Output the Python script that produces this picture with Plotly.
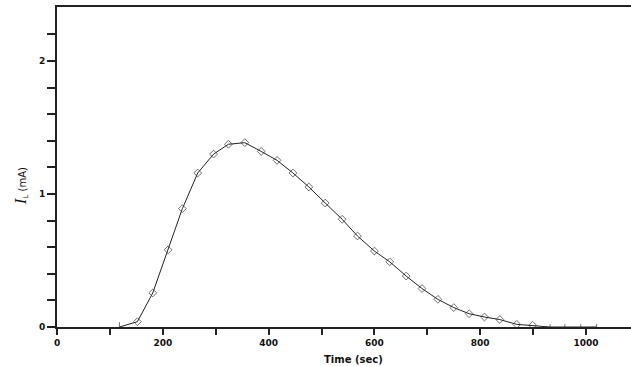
import plotly.graph_objects as go

# Data
time_sec = [118, 152, 181, 210, 237, 266, 296, 324, 355, 386, 416, 446, 476, 507,
            539, 568, 600, 629, 660, 690, 720, 750, 779, 808, 837, 869, 899, 932,
            960, 990, 1020]
current_mA = [0.0, 0.04, 0.256, 0.58, 0.89, 1.158, 1.30, 1.374, 1.386, 1.32, 1.253,
              1.158, 1.053, 0.932, 0.81, 0.684, 0.571, 0.49, 0.383, 0.289, 0.208,
              0.146, 0.10, 0.075, 0.056, 0.02, 0.013, 0.0, 0.0, 0.0, 0.0]

x_tickvals = [0, 100, 200, 300, 400, 500, 600, 700, 800, 900, 1000]
x_ticktext = ["0", "", "200", "", "400", "", "600", "", "800", "", "1000"]
y_tickvals = [0, 0.2, 0.4, 0.6, 0.8, 1.0, 1.2, 1.4, 1.6, 1.8, 2.0, 2.2]
y_ticktext = ["0", "", "", "", "", "1", "", "", "", "", "2", ""]

symbols = ["line-ns-open"] + ["diamond-open"] * 26 + ["line-ns-open"] * 4
sizes = [7] + [6] * 26 + [4] * 4

fig = go.Figure()
fig.add_trace(go.Scatter(
    x=time_sec, y=current_mA, mode="lines+markers",
    line=dict(color="#222222", width=1),
    marker=dict(symbol=symbols, size=sizes, color="#333333",
                line=dict(color="#333333", width=1)),
    showlegend=False,
))

tick_font = dict(family="DejaVu Sans", size=9, color="#111111", weight="bold")

fig.update_layout(
    width=631, height=366,
    margin=dict(l=57, r=0, t=7, b=39),
    paper_bgcolor="white", plot_bgcolor="white",
    xaxis=dict(range=[0, 1085], tickvals=x_tickvals, ticktext=x_ticktext,
               ticks="outside", ticklen=6, tickwidth=1.5, tickcolor="#222222",
               showline=True, linecolor="#222222", linewidth=2, mirror=True,
               showgrid=False, zeroline=False, tickfont=tick_font,
               automargin=False),
    yaxis=dict(range=[0, 2.406], tickvals=y_tickvals, ticktext=y_ticktext,
               ticks="outside", ticklen=8, tickwidth=1.5, tickcolor="#222222",
               showline=True, linecolor="#222222", linewidth=2,
               showgrid=False, zeroline=False, tickfont=tick_font,
               automargin=False),
    annotations=[
        dict(text="Time (sec)", xref="paper", yref="paper", x=0.517, y=0,
             yshift=-32, xanchor="center", yanchor="middle", showarrow=False,
             font=dict(family="DejaVu Sans", size=10, color="#111111", weight="bold")),
        dict(text="<span style='font-family:Liberation Serif;font-size:17px'><i>I</i></span>"
                  "<sub>L</sub> (mA)",
             xref="paper", yref="paper", x=0, xshift=-37, y=0.44,
             xanchor="center", yanchor="middle", textangle=-90, showarrow=False,
             font=dict(family="DejaVu Sans", size=10, color="#111111")),
    ],
)

fig.write_html("out.html", config={"displayModeBar": False},
               post_script="document.body.style.margin='0';document.body.style.overflow='hidden';")
